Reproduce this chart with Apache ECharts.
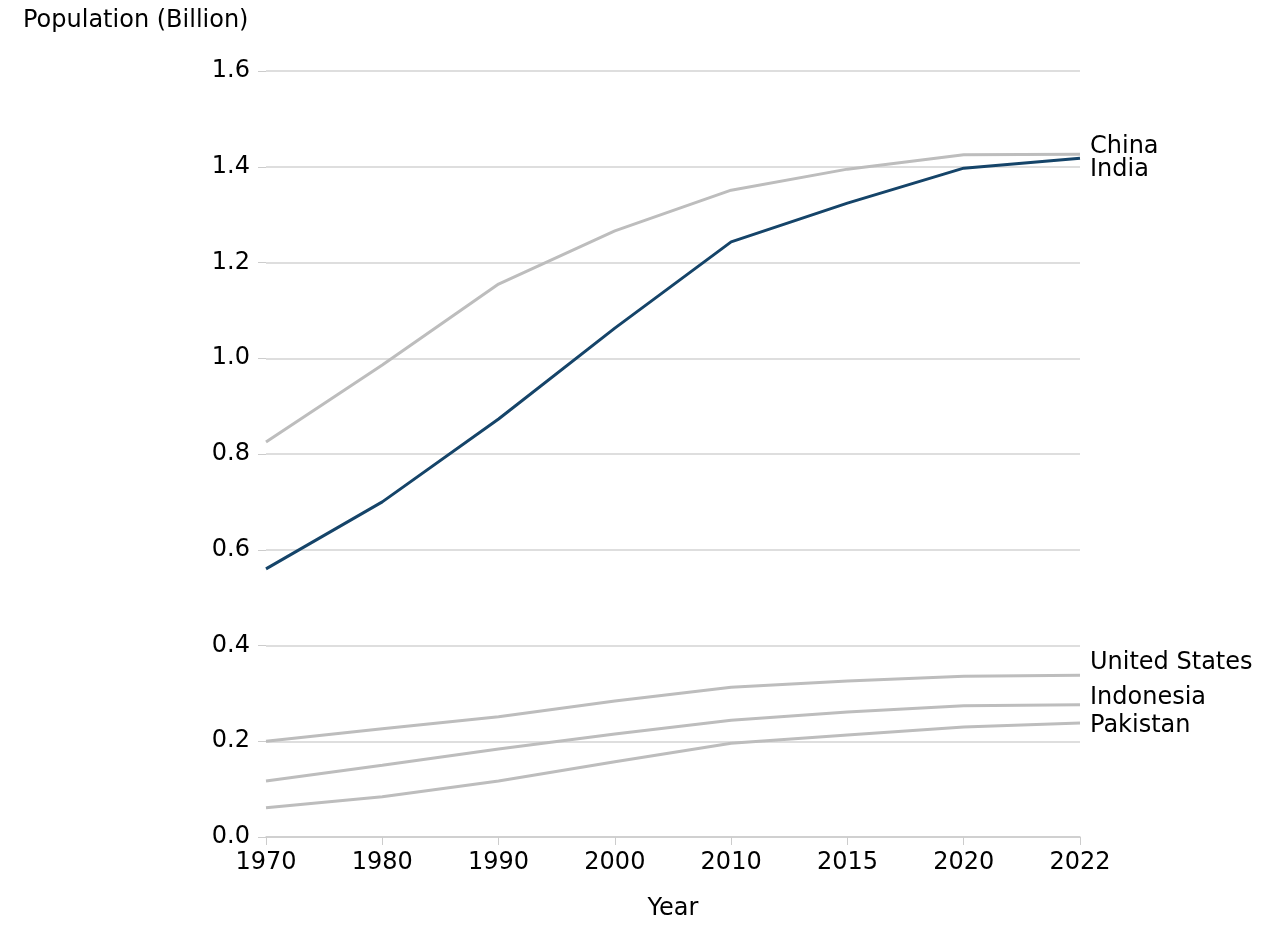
<!DOCTYPE html>
<html><head><meta charset="utf-8">
<script src="https://cdn.jsdelivr.net/npm/echarts@6/dist/echarts.min.js"></script>
<style>html,body{margin:0;padding:0;background:#fff}#c{width:1288px;height:942px}</style>
</head><body><div id="c"></div>
<script>
const years = ['1970','1980','1990','2000','2010','2015','2020','2022'];
const china = [0.825,0.986,1.155,1.266,1.351,1.395,1.425,1.426];
const india = [0.560,0.700,0.873,1.063,1.243,1.324,1.397,1.418];
const us = [0.200,0.226,0.251,0.284,0.313,0.326,0.336,0.338];
const indonesia = [0.117,0.150,0.184,0.215,0.244,0.261,0.274,0.276];
const pakistan = [0.061,0.084,0.117,0.157,0.196,0.213,0.230,0.238];
const yTicks = [0,0.2,0.4,0.6,0.8,1.0,1.2,1.4,1.6];
const font = 'DejaVu Sans';
function s(name, data, color, offY, z){
  return {name, type:'line', data, symbol:'none', z,
    lineStyle:{color, width:3}, itemStyle:{color},
    endLabel:{show:true, formatter:name, color:'#000', fontFamily:font, fontSize:24, offset:[2,offY]}};
}
const chart = echarts.init(document.getElementById('c'));
chart.setOption({
  animation:false,
  textStyle:{fontFamily:font},
  title:{text:'Population (Billion)', left:18, top:4, textStyle:{fontFamily:font, fontSize:24, fontWeight:'normal', color:'#000'}},
  grid:{left:266, right:208, top:71, bottom:105},
  xAxis:{type:'category', data:years, boundaryGap:false, name:'Year', nameLocation:'middle', nameGap:60,
    nameTextStyle:{fontSize:24, color:'#000'},
    axisLine:{lineStyle:{color:'#cccccc', width:1.5}}, axisTick:{show:true, alignWithLabel:true, length:8, lineStyle:{color:'#cccccc'}},
    axisLabel:{fontSize:24, color:'#000', margin:14}},
  yAxis:{type:'value', min:0, max:1.6, interval:0.2,
    axisLine:{show:false}, axisTick:{show:true, length:8, lineStyle:{color:'#cccccc'}},
    splitLine:{lineStyle:{color:'#d3d3d3', width:1.5}},
    axisLabel:{fontSize:24, color:'#000', margin:16, formatter:v=>v.toFixed(1)}},
  series:[
    s('China', china, '#bdbdbd', -8, 2),
    s('United States', us, '#bdbdbd', -12, 2),
    s('Indonesia', indonesia, '#bdbdbd', -7, 2),
    s('Pakistan', pakistan, '#bdbdbd', 3, 2),
    s('India', india, '#154469', 12, 3)
  ]
});
</script></body></html>
